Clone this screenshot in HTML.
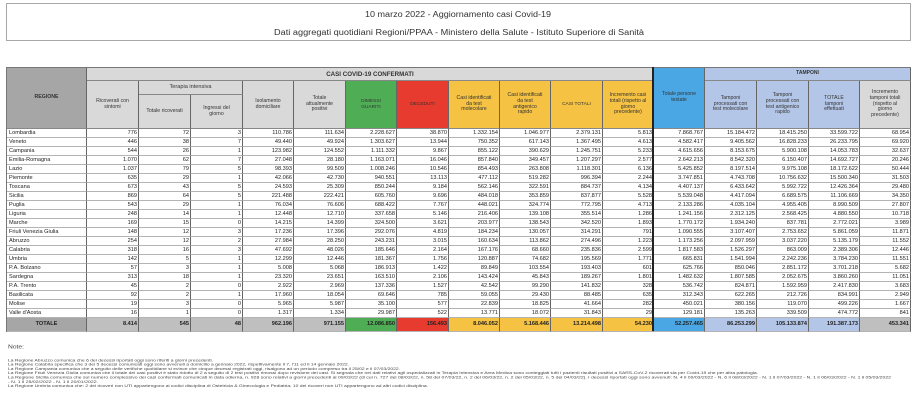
<!DOCTYPE html>
<html><head><meta charset="utf-8">
<style>
body{margin:0;width:916px;height:400px;background:#fff;position:relative;overflow:hidden;font-family:"Liberation Sans",sans-serif;color:#222}
#tb{position:absolute;left:6px;top:3px;width:905px;height:38px;border:1px solid #a8a8a8;box-sizing:border-box}
#g{position:absolute;left:6px;top:67px;display:grid;grid-template-columns:80px 52px 52px 52px 51px 52px 51px 52px 51px 51px 52px 51px 51px 52px 52px 51px 51px;grid-template-rows:13px 14px 34px repeat(21,9px) 14px;border-top:1px solid #777;border-left:1px solid #777}
#g>*{box-sizing:border-box;border-right:1px solid #666;border-bottom:1px solid #b4b4b4;overflow:hidden;white-space:nowrap;margin:0}
.h{display:flex;align-items:center;justify-content:center;text-align:center;font-size:5.2px;line-height:1.13;background:#d9d9d9;color:#333;border-bottom-color:#888!important}
.b{font-weight:bold}
#g i{font-style:normal;font-size:5.6px;line-height:8px;text-align:right;padding-right:1px}
#g u{text-decoration:none;font-size:5.6px;line-height:8px;padding-left:2px}
#g .t{font-weight:bold;line-height:13px;background:#bfbfbf}
#g .tr{font-weight:bold;line-height:13px;background:#a6a6a6;text-align:center;padding:0}
.gr{background:#4fae55!important}
.rd{background:#e63b2e!important}
.ye{background:#f5c243!important}
.bl{background:#4aa7e4!important}
.lb{background:#b4c6e7!important}
.dg{background:#a6a6a6!important}
#thick{position:absolute;left:652px;top:67px;width:2px;height:264px;background:#222}
svg{position:absolute;left:0;top:0}
</style></head><body>
<div id="tb"></div>
<div id="g">
<div class="h b dg" style="grid-column:1;grid-row:1/4">REGIONE</div>
<div class="h b" style="grid-column:2/13;grid-row:1;font-size:6.2px">CASI COVID-19 CONFERMATI</div>
<div class="h bl" style="grid-column:13;grid-row:1/4">Totale persone<br>testate</div>
<div class="h b lb" style="grid-column:14/18;grid-row:1;font-size:5px">TAMPONI</div>
<div class="h" style="grid-column:2;grid-row:2/4">Ricoverati con<br>sintomi</div>
<div class="h" style="grid-column:3/5;grid-row:2;font-size:5.6px">Terapia intensiva</div>
<div class="h" style="grid-column:3;grid-row:3">Totale ricoverati</div>
<div class="h" style="grid-column:4;grid-row:3">Ingressi del<br>giorno</div>
<div class="h" style="grid-column:5;grid-row:2/4">Isolamento<br>domiciliare</div>
<div class="h" style="grid-column:6;grid-row:2/4">Totale<br>attualmente<br>positivi</div>
<div class="h gr" style="grid-column:7;grid-row:2/4;font-size:4.8px">DIMESSI<br>GUARITI</div>
<div class="h rd" style="grid-column:8;grid-row:2/4;font-size:4.8px">DECEDUTI</div>
<div class="h ye" style="grid-column:9;grid-row:2/4">Casi identificati<br>da test<br>molecolare</div>
<div class="h ye" style="grid-column:10;grid-row:2/4">Casi identificati<br>da test<br>antigenico<br>rapido</div>
<div class="h ye" style="grid-column:11;grid-row:2/4;font-size:4.8px">CASI TOTALI</div>
<div class="h ye" style="grid-column:12;grid-row:2/4">Incremento casi<br>totali (rispetto al<br>giorno<br>precedente)</div>
<div class="h lb" style="grid-column:14;grid-row:2/4">Tamponi<br>processati con<br>test molecolare</div>
<div class="h lb" style="grid-column:15;grid-row:2/4">Tamponi<br>processati con<br>test antigenico<br>rapido</div>
<div class="h lb" style="grid-column:16;grid-row:2/4">TOTALE<br>tamponi<br>effettuati</div>
<div class="h" style="grid-column:17;grid-row:2/4">Incremento<br>tamponi totali<br>(rispetto al<br>giorno<br>precedente)</div>

<u>Lombardia</u><i>776</i><i>72</i><i>3</i><i>110.786</i><i>111.634</i><i>2.228.627</i><i>38.870</i><i>1.332.154</i><i>1.046.977</i><i>2.379.131</i><i>5.813</i><i>7.868.767</i><i>15.184.472</i><i>18.415.250</i><i>33.599.722</i><i>68.954</i>
<u>Veneto</u><i>446</i><i>38</i><i>7</i><i>49.440</i><i>49.924</i><i>1.303.627</i><i>13.944</i><i>750.352</i><i>617.143</i><i>1.367.495</i><i>4.613</i><i>4.582.417</i><i>9.405.562</i><i>16.828.233</i><i>26.233.795</i><i>69.920</i>
<u>Campania</u><i>544</i><i>26</i><i>1</i><i>123.982</i><i>124.552</i><i>1.111.332</i><i>9.867</i><i>855.122</i><i>390.629</i><i>1.245.751</i><i>5.233</i><i>4.615.656</i><i>8.153.675</i><i>5.900.108</i><i>14.053.783</i><i>32.637</i>
<u>Emilia-Romagna</u><i>1.070</i><i>62</i><i>7</i><i>27.048</i><i>28.180</i><i>1.163.071</i><i>16.046</i><i>857.840</i><i>349.457</i><i>1.207.297</i><i>2.577</i><i>2.642.213</i><i>8.542.320</i><i>6.150.407</i><i>14.692.727</i><i>20.246</i>
<u>Lazio</u><i>1.037</i><i>79</i><i>5</i><i>98.393</i><i>99.509</i><i>1.008.246</i><i>10.546</i><i>854.493</i><i>263.808</i><i>1.118.301</i><i>6.136</i><i>5.425.852</i><i>8.197.514</i><i>9.975.108</i><i>18.172.622</i><i>50.444</i>
<u>Piemonte</u><i>635</i><i>29</i><i>1</i><i>42.066</i><i>42.730</i><i>940.551</i><i>13.113</i><i>477.112</i><i>519.282</i><i>996.394</i><i>2.244</i><i>3.747.851</i><i>4.743.708</i><i>10.756.632</i><i>15.500.340</i><i>31.503</i>
<u>Toscana</u><i>673</i><i>43</i><i>5</i><i>24.593</i><i>25.309</i><i>850.244</i><i>9.184</i><i>562.146</i><i>322.591</i><i>884.737</i><i>4.134</i><i>4.407.137</i><i>6.433.642</i><i>5.992.722</i><i>12.426.364</i><i>29.480</i>
<u>Sicilia</u><i>869</i><i>64</i><i>5</i><i>221.488</i><i>222.421</i><i>605.760</i><i>9.696</i><i>484.018</i><i>353.859</i><i>837.877</i><i>5.528</i><i>5.539.048</i><i>4.417.094</i><i>6.689.575</i><i>11.106.669</i><i>34.350</i>
<u>Puglia</u><i>543</i><i>29</i><i>1</i><i>76.034</i><i>76.606</i><i>688.422</i><i>7.767</i><i>448.021</i><i>324.774</i><i>772.795</i><i>4.713</i><i>2.133.286</i><i>4.035.104</i><i>4.955.405</i><i>8.990.509</i><i>27.807</i>
<u>Liguria</u><i>248</i><i>14</i><i>1</i><i>12.448</i><i>12.710</i><i>337.658</i><i>5.146</i><i>216.406</i><i>139.108</i><i>355.514</i><i>1.286</i><i>1.241.156</i><i>2.312.125</i><i>2.568.425</i><i>4.880.550</i><i>10.718</i>
<u>Marche</u><i>169</i><i>15</i><i>0</i><i>14.215</i><i>14.399</i><i>324.500</i><i>3.621</i><i>203.977</i><i>138.543</i><i>342.520</i><i>1.893</i><i>1.770.172</i><i>1.934.240</i><i>837.781</i><i>2.772.021</i><i>3.989</i>
<u>Friuli Venezia Giulia</u><i>148</i><i>12</i><i>3</i><i>17.236</i><i>17.396</i><i>292.076</i><i>4.819</i><i>184.234</i><i>130.057</i><i>314.291</i><i>791</i><i>1.090.555</i><i>3.107.407</i><i>2.753.652</i><i>5.861.059</i><i>11.871</i>
<u>Abruzzo</u><i>254</i><i>12</i><i>2</i><i>27.984</i><i>28.250</i><i>243.231</i><i>3.015</i><i>160.634</i><i>113.862</i><i>274.496</i><i>1.223</i><i>1.173.256</i><i>2.097.959</i><i>3.037.220</i><i>5.135.179</i><i>11.552</i>
<u>Calabria</u><i>318</i><i>16</i><i>3</i><i>47.692</i><i>48.026</i><i>185.646</i><i>2.164</i><i>167.176</i><i>68.660</i><i>235.836</i><i>2.599</i><i>1.817.583</i><i>1.526.297</i><i>863.009</i><i>2.389.306</i><i>12.446</i>
<u>Umbria</u><i>142</i><i>5</i><i>1</i><i>12.299</i><i>12.446</i><i>181.367</i><i>1.756</i><i>120.887</i><i>74.682</i><i>195.569</i><i>1.771</i><i>665.831</i><i>1.541.994</i><i>2.242.236</i><i>3.784.230</i><i>11.551</i>
<u>P.A. Bolzano</u><i>57</i><i>3</i><i>1</i><i>5.008</i><i>5.068</i><i>186.913</i><i>1.422</i><i>89.849</i><i>103.554</i><i>193.403</i><i>601</i><i>625.766</i><i>850.046</i><i>2.851.172</i><i>3.701.218</i><i>5.682</i>
<u>Sardegna</u><i>313</i><i>18</i><i>1</i><i>23.320</i><i>23.651</i><i>163.510</i><i>2.106</i><i>143.424</i><i>45.843</i><i>189.267</i><i>1.801</i><i>1.482.632</i><i>1.807.585</i><i>2.052.675</i><i>3.860.260</i><i>11.051</i>
<u>P.A. Trento</u><i>45</i><i>2</i><i>0</i><i>2.922</i><i>2.969</i><i>137.336</i><i>1.527</i><i>42.542</i><i>99.290</i><i>141.832</i><i>328</i><i>536.742</i><i>824.871</i><i>1.592.959</i><i>2.417.830</i><i>3.683</i>
<u>Basilicata</u><i>92</i><i>2</i><i>1</i><i>17.960</i><i>18.054</i><i>69.646</i><i>785</i><i>59.055</i><i>29.430</i><i>88.485</i><i>635</i><i>312.343</i><i>622.265</i><i>212.726</i><i>834.991</i><i>2.949</i>
<u>Molise</u><i>19</i><i>3</i><i>0</i><i>5.965</i><i>5.987</i><i>35.100</i><i>577</i><i>22.839</i><i>18.825</i><i>41.664</i><i>282</i><i>450.021</i><i>380.156</i><i>119.070</i><i>499.226</i><i>1.667</i>
<u>Valle d'Aosta</u><i>16</i><i>1</i><i>0</i><i>1.317</i><i>1.334</i><i>29.987</i><i>522</i><i>13.771</i><i>18.072</i><i>31.843</i><i>29</i><i>129.181</i><i>135.263</i><i>339.509</i><i>474.772</i><i>841</i>
<u class="tr">TOTALE</u><i class="t">8.414</i><i class="t">545</i><i class="t">48</i><i class="t">962.196</i><i class="t">971.155</i><i class="t gr">12.086.850</i><i class="t rd">156.493</i><i class="t ye">8.046.052</i><i class="t ye">5.168.446</i><i class="t ye">13.214.498</i><i class="t ye">54.230</i><i class="t bl">52.257.465</i><i class="t lb">86.253.299</i><i class="t lb">105.133.874</i><i class="t lb">191.387.173</i><i class="t">453.341</i>
</div>
<div id="thick"></div>
<svg width="916" height="400" font-family="Liberation Sans, sans-serif">
<text x="458" y="17" font-size="8" fill="#333" text-anchor="middle" textLength="186" lengthAdjust="spacingAndGlyphs">10 marzo 2022 - Aggiornamento casi Covid-19</text>
<text x="459" y="35" font-size="8" fill="#333" text-anchor="middle" textLength="370" lengthAdjust="spacingAndGlyphs">Dati aggregati quotidiani Regioni/PPAA - Ministero della Salute - Istituto Superiore di Sanità</text>
<text x="8" y="348.5" font-size="5" fill="#444" textLength="16" lengthAdjust="spacingAndGlyphs">Note:</text>
<g font-size="4" fill="#444">
<text x="8" y="361.3" textLength="205" lengthAdjust="spacingAndGlyphs">La Regione Abruzzo  comunica che 6 dei decessi riportati oggi sono riferiti a giorni precedenti.</text>
<text x="8" y="365.6" textLength="341" lengthAdjust="spacingAndGlyphs">La Regione Calabria specifica che 3 dei 5 decessi comunicati oggi sono avvenuti a domicilio a gennaio 2022, rispettivamente il 7, l'11 ed il 14 gennaio 2022.</text>
<text x="8" y="369.9" textLength="392" lengthAdjust="spacingAndGlyphs">La Regione Campania comunica che a seguito delle verifiche quotidiane si evince che cinque decessi registrati oggi, risalgono ad un periodo compreso tra il 25/02 e il 07/03/2022.</text>
<text x="8" y="374.2" textLength="750" lengthAdjust="spacingAndGlyphs">La Regione Friuli Venezia Giulia comunica che il totale dei casi positivi è stato ridotto di 2 a seguito di 2 test positivi rimossi dopo revisione dei casi. Si segnala che nei dati relativi agli ospedalizzati in Terapia Intensiva e Area Medica sono conteggiati tutti i pazienti risultati positivi a SARS-CoV-2 ricoverati sia per Covid-19 che per altra patologia.</text>
<text x="8" y="378.5" textLength="883" lengthAdjust="spacingAndGlyphs">La Regione Sicilia comunica che sul numero complessivo dei casi confermati comunicati in data odierna, n. 928 sono relativi a giorni precedenti al 09/03/22 (di cui n. 727 del 08/03/22, n. 58 del 07/03/22, n. 2 del 06/03/22, n. 2 del 05/03/22, n. 5 del 04/03/22). I decessi riportati oggi sono avvenuti: N. 4 il 09/03/2022 - N. 6 il 08/03/2022 - N. 1 il 07/03/2022 - N. 1 il 06/03/2022 - N. 1 il 05/03/2022</text>
<text x="8" y="382.8" textLength="90" lengthAdjust="spacingAndGlyphs">- N. 1 il 25/02/2022 - N. 1 il 20/01/2022.</text>
<text x="8" y="387.1" textLength="420" lengthAdjust="spacingAndGlyphs">La Regione Umbria comunica che: 2 dei ricoveri non UTI appartengono ai codici disciplina di Ostetricia &amp; Ginecologia e Pediatria; 10 dei ricoveri non UTI appartengono ad altri codici disciplina.</text>
</g>
</svg>
</body></html>
